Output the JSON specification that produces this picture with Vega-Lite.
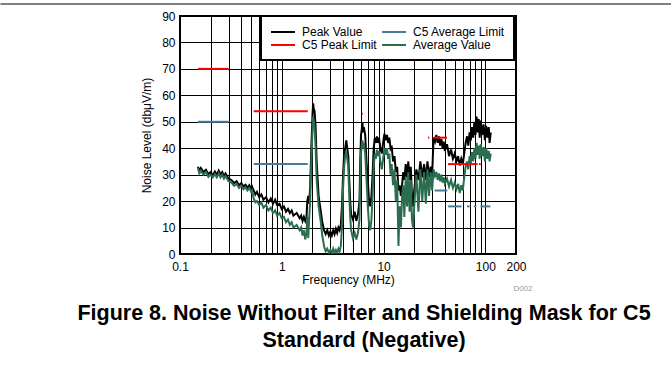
{
  "$schema": "https://vega.github.io/schema/vega-lite/v6.json",
  "autosize": "none",
  "width": 336,
  "height": 238,
  "padding": {"left": 180, "top": 16, "right": 155, "bottom": 112},
  "background": "white",
  "config": {
    "font": "Liberation Sans",
    "view": {"stroke": "black", "strokeWidth": 2},
    "legend": {"strokeWidth": 2},
    "axis": {"labelFont": "Liberation Sans", "titleFont": "Liberation Sans", "labelFontSize": 12, "titleFontSize": 12, "titleFontWeight": "normal", "labelColor": "black", "titleColor": "black", "ticks": false, "domain": false, "grid": true, "gridColor": "black", "gridWidth": 1, "gridOpacity": 1}
  },
  "title": {
    "text": ["Figure 8. Noise Without Filter and Shielding Mask for C5", "Standard (Negative)"],
    "orient": "bottom",
    "anchor": "middle",
    "frame": "group",
    "dx": 16,
    "offset": 10,
    "font": "Liberation Sans",
    "fontSize": 21.5,
    "fontWeight": "bold",
    "color": "black",
    "lineHeight": 27
  },
  "datasets": {
    "peak": [
      {"f":0.15,"v":33},{"f":0.155,"v":31.5},{"f":0.16,"v":32.5},{"f":0.17,"v":31},{"f":0.18,"v":31.8},{"f":0.19,"v":30.2},{"f":0.2,"v":31},{"f":0.21,"v":29.8},{"f":0.22,"v":31.2},{"f":0.23,"v":30},{"f":0.24,"v":31.5},{"f":0.25,"v":30},{"f":0.26,"v":31},{"f":0.27,"v":29.5},{"f":0.28,"v":30.5},{"f":0.3,"v":28.5},{"f":0.32,"v":28},{"f":0.34,"v":26.8},{"f":0.36,"v":27.5},{"f":0.38,"v":26},{"f":0.4,"v":26.8},{"f":0.42,"v":25.5},{"f":0.44,"v":26.2},{"f":0.46,"v":25},{"f":0.48,"v":26},{"f":0.5,"v":24.5},{"f":0.51,"v":25.5},{"f":0.53,"v":24},{"f":0.55,"v":22.5},{"f":0.57,"v":23.5},{"f":0.6,"v":21.5},{"f":0.63,"v":22.5},{"f":0.66,"v":20.5},{"f":0.7,"v":21.5},{"f":0.74,"v":19.5},{"f":0.78,"v":21},{"f":0.82,"v":19},{"f":0.86,"v":20.5},{"f":0.9,"v":18.5},{"f":0.95,"v":19},{"f":1.0,"v":17},{"f":1.05,"v":18},{"f":1.1,"v":16},{"f":1.15,"v":17},{"f":1.2,"v":15.5},{"f":1.25,"v":16.5},{"f":1.3,"v":14.5},{"f":1.4,"v":15.5},{"f":1.5,"v":13.5},{"f":1.55,"v":14.5},{"f":1.6,"v":12.5},{"f":1.65,"v":14},{"f":1.7,"v":12.5},{"f":1.75,"v":14},{"f":1.78,"v":20},{"f":1.82,"v":22},{"f":1.85,"v":19},{"f":1.9,"v":25},{"f":1.95,"v":40},{"f":2.0,"v":52},{"f":2.03,"v":57},{"f":2.06,"v":55},{"f":2.1,"v":54},{"f":2.15,"v":48},{"f":2.2,"v":35},{"f":2.3,"v":22},{"f":2.4,"v":17},{"f":2.5,"v":12},{"f":2.6,"v":9},{"f":2.7,"v":7.5},{"f":2.8,"v":9},{"f":2.9,"v":7},{"f":3.0,"v":8.5},{"f":3.1,"v":7},{"f":3.2,"v":9},{"f":3.3,"v":7.5},{"f":3.4,"v":9.5},{"f":3.5,"v":8},{"f":3.6,"v":10},{"f":3.7,"v":9},{"f":3.8,"v":11},{"f":3.9,"v":18},{"f":4.0,"v":30},{"f":4.1,"v":38},{"f":4.2,"v":40},{"f":4.3,"v":43},{"f":4.4,"v":40},{"f":4.5,"v":37},{"f":4.6,"v":28},{"f":4.7,"v":20},{"f":4.8,"v":15},{"f":5.0,"v":13},{"f":5.2,"v":16},{"f":5.4,"v":12.5},{"f":5.6,"v":15},{"f":5.8,"v":20},{"f":5.9,"v":35},{"f":6.0,"v":45},{"f":6.1,"v":47},{"f":6.2,"v":49.5},{"f":6.3,"v":46},{"f":6.4,"v":48},{"f":6.6,"v":45},{"f":6.8,"v":35},{"f":7.0,"v":28},{"f":7.2,"v":20},{"f":7.4,"v":18},{"f":7.6,"v":22},{"f":7.8,"v":30},{"f":8.0,"v":40},{"f":8.2,"v":44},{"f":8.4,"v":42},{"f":8.6,"v":44.5},{"f":8.8,"v":42},{"f":9.0,"v":44},{"f":9.3,"v":40},{"f":9.6,"v":38},{"f":9.9,"v":42},{"f":10.2,"v":45.5},{"f":10.5,"v":43},{"f":10.8,"v":45},{"f":11.1,"v":42},{"f":11.4,"v":44},{"f":11.7,"v":40},{"f":12.0,"v":41},{"f":12.4,"v":35},{"f":12.8,"v":37},{"f":13.2,"v":31},{"f":13.6,"v":33},{"f":14.0,"v":24},{"f":14.4,"v":26},{"f":14.8,"v":22},{"f":15.2,"v":26},{"f":15.6,"v":31},{"f":16.0,"v":28},{"f":16.5,"v":34},{"f":17,"v":29},{"f":17.5,"v":35},{"f":18,"v":28},{"f":18.5,"v":33},{"f":19,"v":22},{"f":19.5,"v":18},{"f":20,"v":24},{"f":21,"v":32},{"f":22,"v":28},{"f":23,"v":35},{"f":24,"v":29},{"f":25,"v":34},{"f":26,"v":28},{"f":27,"v":35},{"f":28,"v":29},{"f":29,"v":33},{"f":30,"v":30},{"f":31,"v":44},{"f":32,"v":42.5},{"f":33,"v":45},{"f":34,"v":42},{"f":35,"v":44.5},{"f":36,"v":41},{"f":37,"v":43.5},{"f":38,"v":40},{"f":39,"v":42.5},{"f":40,"v":39},{"f":42,"v":41.5},{"f":44,"v":37},{"f":46,"v":39.5},{"f":48,"v":36},{"f":50,"v":38},{"f":52,"v":35},{"f":54,"v":37},{"f":56,"v":33.5},{"f":58,"v":36},{"f":60,"v":34},{"f":62,"v":38},{"f":64,"v":42},{"f":66,"v":44.5},{"f":68,"v":41},{"f":70,"v":46},{"f":72,"v":43},{"f":74,"v":48},{"f":76,"v":44},{"f":78,"v":50},{"f":80,"v":45},{"f":82,"v":52},{"f":84,"v":46},{"f":86,"v":51},{"f":88,"v":44},{"f":90,"v":50.5},{"f":93,"v":45},{"f":96,"v":49},{"f":99,"v":43},{"f":102,"v":48.5},{"f":105,"v":44},{"f":108,"v":48},{"f":110,"v":42},{"f":113,"v":46}
    ],
    "avg": [
      {"f":0.15,"v":32.5},{"f":0.155,"v":30.5},{"f":0.16,"v":31.5},{"f":0.17,"v":30},{"f":0.18,"v":31},{"f":0.19,"v":29.2},{"f":0.2,"v":30},{"f":0.21,"v":29},{"f":0.22,"v":30.2},{"f":0.23,"v":29},{"f":0.24,"v":30.5},{"f":0.25,"v":29},{"f":0.26,"v":30},{"f":0.27,"v":28.5},{"f":0.28,"v":29.5},{"f":0.3,"v":27.5},{"f":0.32,"v":27},{"f":0.34,"v":25.8},{"f":0.36,"v":26.5},{"f":0.38,"v":25},{"f":0.4,"v":25.8},{"f":0.42,"v":24.5},{"f":0.44,"v":25.2},{"f":0.46,"v":24},{"f":0.48,"v":25},{"f":0.5,"v":23.5},{"f":0.51,"v":24},{"f":0.53,"v":21},{"f":0.55,"v":19.5},{"f":0.57,"v":20},{"f":0.6,"v":18.5},{"f":0.63,"v":19.5},{"f":0.66,"v":17.5},{"f":0.7,"v":18.5},{"f":0.74,"v":16.5},{"f":0.78,"v":17.5},{"f":0.82,"v":15.5},{"f":0.86,"v":16.5},{"f":0.9,"v":14.5},{"f":0.95,"v":15.5},{"f":1.0,"v":13.5},{"f":1.05,"v":14},{"f":1.1,"v":12},{"f":1.15,"v":13},{"f":1.2,"v":11},{"f":1.25,"v":12},{"f":1.3,"v":10},{"f":1.4,"v":11},{"f":1.5,"v":9},{"f":1.55,"v":10},{"f":1.6,"v":7},{"f":1.65,"v":9},{"f":1.7,"v":5.5},{"f":1.75,"v":8},{"f":1.78,"v":14},{"f":1.82,"v":6},{"f":1.85,"v":12},{"f":1.9,"v":20},{"f":1.95,"v":35},{"f":2.0,"v":46},{"f":2.03,"v":52},{"f":2.06,"v":50},{"f":2.1,"v":48},{"f":2.15,"v":40},{"f":2.2,"v":28},{"f":2.3,"v":18},{"f":2.4,"v":13},{"f":2.5,"v":7},{"f":2.6,"v":3},{"f":2.7,"v":1},{"f":2.8,"v":2},{"f":2.9,"v":0.5},{"f":3.0,"v":1.5},{"f":3.1,"v":0.3},{"f":3.2,"v":2},{"f":3.3,"v":0.5},{"f":3.4,"v":1.5},{"f":3.5,"v":0.5},{"f":3.6,"v":2},{"f":3.7,"v":1},{"f":3.8,"v":3},{"f":3.9,"v":10},{"f":4.0,"v":25},{"f":4.1,"v":33},{"f":4.2,"v":37},{"f":4.3,"v":39},{"f":4.4,"v":36},{"f":4.5,"v":33},{"f":4.6,"v":22},{"f":4.7,"v":14},{"f":4.8,"v":9},{"f":5.0,"v":6},{"f":5.2,"v":8},{"f":5.4,"v":5.5},{"f":5.6,"v":8},{"f":5.8,"v":13},{"f":5.9,"v":28},{"f":6.0,"v":38},{"f":6.1,"v":41},{"f":6.2,"v":43},{"f":6.3,"v":40},{"f":6.4,"v":42},{"f":6.6,"v":38},{"f":6.8,"v":28},{"f":7.0,"v":18},{"f":7.2,"v":11},{"f":7.4,"v":9},{"f":7.6,"v":13},{"f":7.8,"v":22},{"f":8.0,"v":33},{"f":8.2,"v":38},{"f":8.4,"v":36},{"f":8.6,"v":39.5},{"f":8.8,"v":37},{"f":9.0,"v":39},{"f":9.3,"v":35},{"f":9.6,"v":32},{"f":9.9,"v":36},{"f":10.2,"v":40},{"f":10.5,"v":37.5},{"f":10.8,"v":40},{"f":11.1,"v":36},{"f":11.4,"v":38},{"f":11.7,"v":30},{"f":12.0,"v":34},{"f":12.4,"v":26},{"f":12.8,"v":32},{"f":13.2,"v":20},{"f":13.6,"v":28},{"f":14.0,"v":3},{"f":14.4,"v":18},{"f":14.8,"v":10},{"f":15.2,"v":22},{"f":15.6,"v":26},{"f":16.0,"v":14},{"f":16.5,"v":29},{"f":17,"v":18},{"f":17.5,"v":31},{"f":18,"v":16},{"f":18.5,"v":28},{"f":19,"v":13},{"f":19.5,"v":10},{"f":20,"v":18},{"f":21,"v":30},{"f":22,"v":16},{"f":23,"v":32},{"f":24,"v":20},{"f":25,"v":31},{"f":26,"v":19},{"f":27,"v":32},{"f":28,"v":22},{"f":29,"v":31},{"f":30,"v":24},{"f":31,"v":32},{"f":32,"v":29.5},{"f":33,"v":31},{"f":34,"v":28},{"f":35,"v":30.5},{"f":36,"v":27.5},{"f":37,"v":30},{"f":38,"v":27},{"f":39,"v":29},{"f":40,"v":26.5},{"f":42,"v":28.5},{"f":44,"v":25.5},{"f":46,"v":28},{"f":48,"v":25},{"f":50,"v":27},{"f":52,"v":24.5},{"f":54,"v":26.5},{"f":56,"v":23},{"f":58,"v":26},{"f":60,"v":24},{"f":62,"v":29},{"f":64,"v":33},{"f":66,"v":35},{"f":68,"v":32},{"f":70,"v":37},{"f":72,"v":34.5},{"f":74,"v":38.5},{"f":76,"v":35},{"f":78,"v":40},{"f":80,"v":36},{"f":82,"v":42},{"f":84,"v":37.5},{"f":86,"v":41},{"f":88,"v":36},{"f":90,"v":41.5},{"f":93,"v":37},{"f":96,"v":40.5},{"f":99,"v":35},{"f":102,"v":40},{"f":105,"v":36},{"f":108,"v":39},{"f":110,"v":35},{"f":113,"v":38}
    ],
    "limits": [
      {"s":"C5 Peak Limit","g":1,"f":0.15,"v":70},{"s":"C5 Peak Limit","g":1,"f":0.3,"v":70},
      {"s":"C5 Peak Limit","g":2,"f":0.53,"v":54},{"s":"C5 Peak Limit","g":2,"f":1.8,"v":54},
      {"s":"C5 Peak Limit","g":3,"f":6.1,"v":53},{"s":"C5 Peak Limit","g":3,"f":6.25,"v":53},
      {"s":"C5 Peak Limit","g":4,"f":27.3,"v":44},{"s":"C5 Peak Limit","g":4,"f":28.1,"v":44},
      {"s":"C5 Peak Limit","g":5,"f":31,"v":44},{"s":"C5 Peak Limit","g":5,"f":42,"v":44},
      {"s":"C5 Peak Limit","g":6,"f":43,"v":34},{"s":"C5 Peak Limit","g":6,"f":84,"v":34},
      {"s":"C5 Peak Limit","g":7,"f":86.5,"v":34},{"s":"C5 Peak Limit","g":7,"f":90,"v":34},
      {"s":"C5 Average Limit","g":11,"f":0.15,"v":50},{"s":"C5 Average Limit","g":11,"f":0.3,"v":50},
      {"s":"C5 Average Limit","g":12,"f":0.53,"v":34},{"s":"C5 Average Limit","g":12,"f":1.8,"v":34},
      {"s":"C5 Average Limit","g":13,"f":31.7,"v":24},{"s":"C5 Average Limit","g":13,"f":42.3,"v":24},
      {"s":"C5 Average Limit","g":14,"f":43.1,"v":18},{"s":"C5 Average Limit","g":14,"f":58.3,"v":18},
      {"s":"C5 Average Limit","g":15,"f":66,"v":18},{"s":"C5 Average Limit","g":15,"f":70,"v":18},
      {"s":"C5 Average Limit","g":16,"f":77.6,"v":18},{"s":"C5 Average Limit","g":16,"f":81.6,"v":18},
      {"s":"C5 Average Limit","g":17,"f":89.5,"v":18},{"s":"C5 Average Limit","g":17,"f":112,"v":18}
    ],
    "rule": [{"f":0.00172,"v":94.54},{"f":6800,"v":94.54}],
    "note": [{"f":234,"v":-13.2,"t":"D002"}]
  },
  "encoding": {
    "x": {"field": "f", "type": "quantitative", "scale": {"type": "log", "domain": [0.1, 200], "nice": false},
      "axis": {"title": "Frequency (MHz)", "values": [0.1,0.2,0.3,0.4,0.5,0.6,0.7,0.8,0.9,1,2,3,4,5,6,7,8,9,10,20,30,40,50,60,70,80,90,100,200],
        "labelExpr": "indexof([0.1,1,10,100,200], datum.value) >= 0 ? format(datum.value, '~g') : ''",
        "labelOverlap": false, "labelFlush": false, "labelPadding": 7, "titlePadding": 2}},
    "y": {"field": "v", "type": "quantitative", "scale": {"domain": [0, 90], "nice": false},
      "axis": {"title": "Noise Level (dbμV/m)", "values": [0,10,20,30,40,50,60,70,80,90], "labelPadding": 5, "titlePadding": 8}}
  },
  "layer": [
    {"data": {"name": "peak"}, "mark": {"type": "line", "strokeWidth": 2, "clip": true},
      "encoding": {"color": {"datum": "Peak Value", "type": "nominal", "title": null,
        "scale": {"domain": ["Peak Value", "C5 Average Limit", "C5 Peak Limit", "Average Value"], "range": ["#000000", "#4a7a9a", "#ff0000", "#2a6e4f"]},
        "legend": {"title": null, "orient": "none", "legendX": 81, "legendY": 0, "columns": 2, "direction": "horizontal",
          "fillColor": "white", "strokeColor": "black", "padding": 9, "symbolType": "M-1,0H3", "symbolSize": 144, "symbolStrokeWidth": 2,
          "labelFontSize": 12, "labelFont": "Liberation Sans", "labelColor": "black", "labelOffset": 18, "columnPadding": 1, "rowPadding": -1.3, "labelLimit": 200}}}},
    {"data": {"name": "avg"}, "mark": {"type": "line", "strokeWidth": 2, "clip": true},
      "encoding": {"color": {"datum": "Average Value", "type": "nominal", "title": null}}},
    {"data": {"name": "limits"}, "mark": {"type": "line", "strokeWidth": 2},
      "encoding": {"color": {"field": "s", "type": "nominal", "title": null}, "detail": {"field": "g", "type": "nominal"}}},
    {"data": {"name": "rule"}, "mark": {"type": "line", "color": "black", "strokeWidth": 1, "clip": false}, "encoding": {}},
    {"data": {"name": "note"}, "mark": {"type": "text", "color": "#999999", "fontSize": 8, "font": "Liberation Sans", "align": "center", "baseline": "middle", "clip": false},
      "encoding": {"text": {"field": "t"}}}
  ]
}
